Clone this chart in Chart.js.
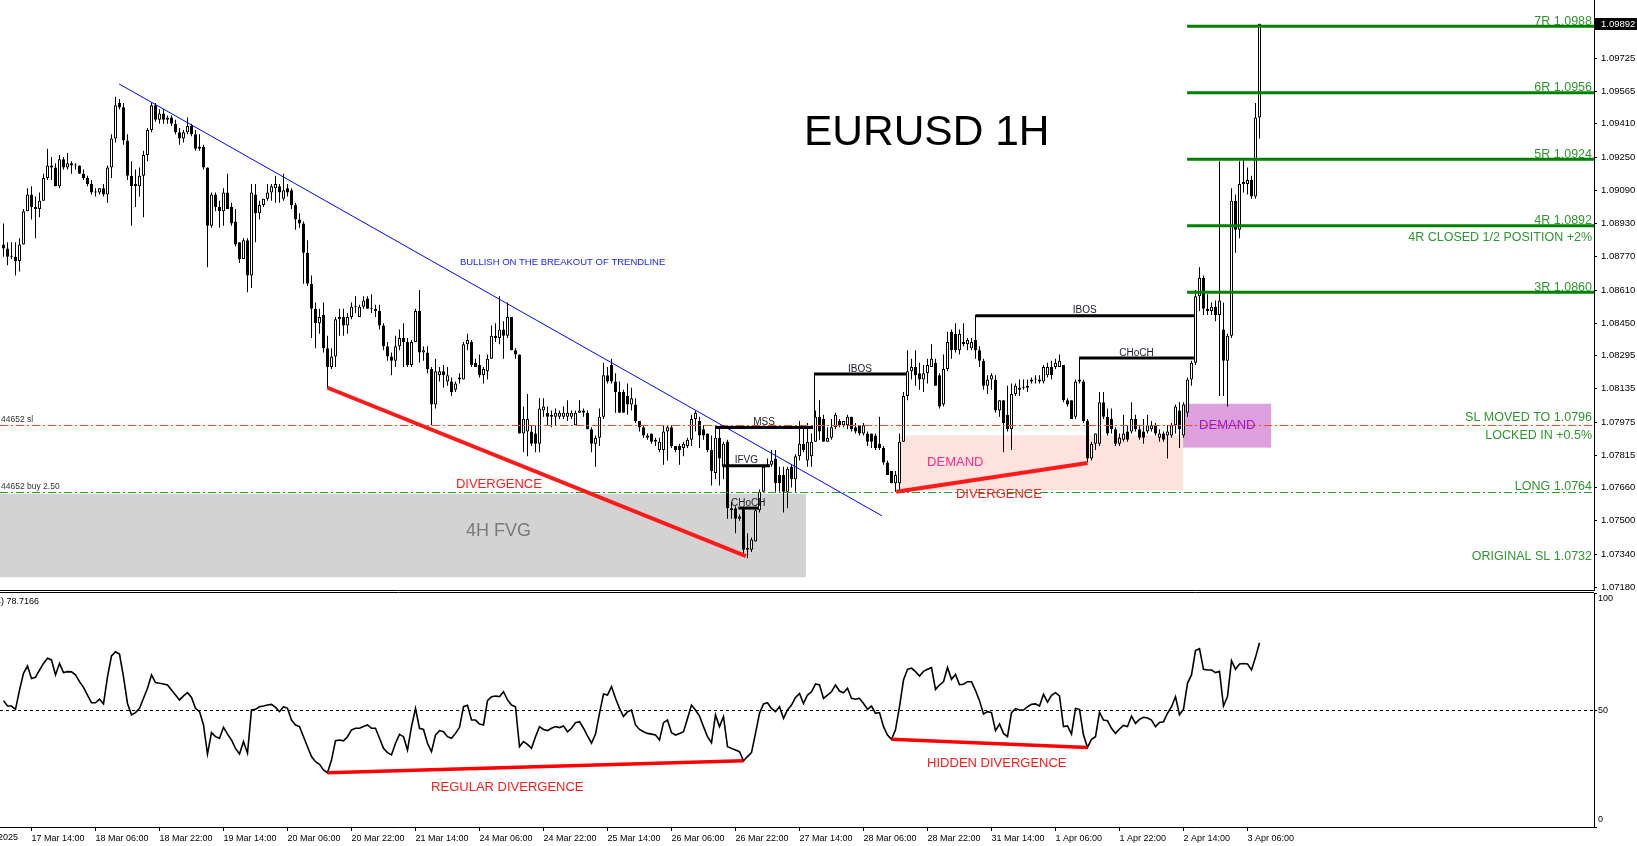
<!DOCTYPE html>
<html>
<head>
<meta charset="utf-8">
<title>EURUSD 1H</title>
<script src="https://cdn.jsdelivr.net/npm/chart.js"></script>
<style>
    html, body { margin: 0; padding: 0; background: #fff; overflow: hidden; }
    #price-chart { position: absolute; left: 0; top: 0; }
    #rsi-chart { position: absolute; left: 0; top: 591px; }
</style>
</head>
<body>
<canvas id="price-chart" width="1637" height="591"></canvas>
<canvas id="rsi-chart" width="1637" height="255"></canvas>
<script>
// EURUSD H1 candles, one entry per bar (bar 0 = 17 Mar 07:00)
var opens = [
    1.0883, 1.0881, 1.0877, 1.0877, 1.0875, 1.0883, 1.0899, 1.0907, 1.0901, 1.0900,
    1.0904, 1.0915, 1.0921, 1.0920, 1.0911, 1.0924, 1.0920, 1.0922, 1.0921, 1.0921,
    1.0917, 1.0915, 1.0912, 1.0908, 1.0908, 1.0910, 1.0907, 1.0920, 1.0934, 1.0951,
    1.0949, 1.0933, 1.0916, 1.0912, 1.0911, 1.0916, 1.0926, 1.0938, 1.0950, 1.0943,
    1.0946, 1.0943, 1.0944, 1.0941, 1.0937, 1.0934, 1.0937, 1.0940, 1.0936, 1.0929,
    1.0930, 1.0920, 1.0892, 1.0907, 1.0901, 1.0899, 1.0908, 1.0901, 1.0894, 1.0884,
    1.0876, 1.0885, 1.0868, 1.0907, 1.0898, 1.0902, 1.0905, 1.0908, 1.0910, 1.0911,
    1.0905, 1.0910, 1.0909, 1.0902, 1.0895, 1.0893, 1.0879, 1.0864, 1.0852, 1.0845,
    1.0849, 1.0833, 1.0824, 1.0829, 1.0847, 1.0848, 1.0844, 1.0848, 1.0853, 1.0848,
    1.0853, 1.0857, 1.0852, 1.0852, 1.0851, 1.0844, 1.0834, 1.0829, 1.0827, 1.0834,
    1.0838, 1.0836, 1.0825, 1.0836, 1.0851, 1.0831, 1.0831, 1.0823, 1.0806, 1.0820,
    1.0822, 1.0817, 1.0817, 1.0813, 1.0818, 1.0818, 1.0835, 1.0836, 1.0826, 1.0825,
    1.0820, 1.0822, 1.0828, 1.0839, 1.0838, 1.0842, 1.0839, 1.0848, 1.0832, 1.0830,
    1.0792, 1.0793, 1.0793, 1.0792, 1.0787, 1.0803, 1.0802, 1.0800, 1.0800, 1.0800,
    1.0800, 1.0800, 1.0800, 1.0796, 1.0802, 1.0803, 1.0802, 1.0794, 1.0787, 1.0790,
    1.0800, 1.0820, 1.0825, 1.0817, 1.0812, 1.0812, 1.0810, 1.0806, 1.0806, 1.0798,
    1.0795, 1.0790, 1.0792, 1.0788, 1.0784, 1.0784, 1.0793, 1.0795, 1.0786, 1.0786,
    1.0785, 1.0786, 1.0789, 1.0799, 1.0798, 1.0794, 1.0792, 1.0784, 1.0773, 1.0790,
    1.0776, 1.0788, 1.0756, 1.0756, 1.0751, 1.0756, 1.0737, 1.0736, 1.0740, 1.0755,
    1.0764, 1.0776, 1.0777, 1.0780, 1.0772, 1.0772, 1.0764, 1.0776, 1.0770, 1.0781,
    1.0787, 1.0779, 1.0781, 1.0788, 1.0800, 1.0799, 1.0788, 1.0790, 1.0795, 1.0798,
    1.0796, 1.0796, 1.0800, 1.0795, 1.0796, 1.0792, 1.0792, 1.0792, 1.0791, 1.0787,
    1.0785, 1.0778, 1.0774, 1.0768, 1.0768, 1.0788, 1.0810, 1.0822, 1.0824, 1.0821,
    1.0818, 1.0821, 1.0824, 1.0826, 1.0820, 1.0806, 1.0823, 1.0841, 1.0840, 1.0832,
    1.0836, 1.0835, 1.0833, 1.0837, 1.0832, 1.0827, 1.0815, 1.0818, 1.0818, 1.0803,
    1.0808, 1.0801, 1.0794, 1.0811, 1.0813, 1.0814, 1.0814, 1.0817, 1.0818, 1.0818,
    1.0817, 1.0820, 1.0824, 1.0824, 1.0824, 1.0825, 1.0808, 1.0808, 1.0800, 1.0817,
    1.0817, 1.0798, 1.0780, 1.0787, 1.0787, 1.0807, 1.0800, 1.0799, 1.0794, 1.0787,
    1.0789, 1.0793, 1.0793, 1.0799, 1.0794, 1.0793, 1.0793, 1.0794, 1.0796, 1.0790,
    1.0792, 1.0791, 1.0791, 1.0796, 1.0803, 1.0791, 1.0802, 1.0818, 1.0826, 1.0858,
    1.0867, 1.0852, 1.0851, 1.0853, 1.0849, 1.0842, 1.0827, 1.0839, 1.0904, 1.0890,
    1.0912, 1.0912, 1.0914, 1.0906, 1.0944
];
var highs = [
    1.0893, 1.0884, 1.0884, 1.0884, 1.0886, 1.0900, 1.0910, 1.0911, 1.0906, 1.0908,
    1.0917, 1.0929, 1.0925, 1.0922, 1.0926, 1.0925, 1.0927, 1.0923, 1.0922, 1.0921,
    1.0919, 1.0916, 1.0914, 1.0910, 1.0910, 1.0912, 1.0921, 1.0936, 1.0954, 1.0953,
    1.0951, 1.0936, 1.0923, 1.0919, 1.0920, 1.0928, 1.0939, 1.0951, 1.0951, 1.0948,
    1.0948, 1.0945, 1.0945, 1.0943, 1.0939, 1.0938, 1.0944, 1.0941, 1.0938, 1.0936,
    1.0931, 1.0920, 1.0908, 1.0908, 1.0904, 1.0910, 1.0917, 1.0903, 1.0900, 1.0884,
    1.0886, 1.0886, 1.0912, 1.0912, 1.0904, 1.0905, 1.0912, 1.0912, 1.0916, 1.0912,
    1.0917, 1.0912, 1.0910, 1.0903, 1.0898, 1.0894, 1.0885, 1.0868, 1.0855, 1.0852,
    1.0855, 1.0839, 1.0833, 1.0848, 1.0852, 1.0852, 1.0850, 1.0855, 1.0858, 1.0854,
    1.0858, 1.0858, 1.0859, 1.0854, 1.0854, 1.0845, 1.0836, 1.0831, 1.0839, 1.0842,
    1.0845, 1.0838, 1.0837, 1.0852, 1.0861, 1.0834, 1.0834, 1.0824, 1.0828, 1.0824,
    1.0825, 1.0824, 1.0819, 1.0817, 1.0821, 1.0836, 1.0840, 1.0837, 1.0828, 1.0830,
    1.0824, 1.0830, 1.0844, 1.0845, 1.0858, 1.0846, 1.0855, 1.0848, 1.0833, 1.0830,
    1.0805, 1.0811, 1.0796, 1.0796, 1.0809, 1.0809, 1.0805, 1.0803, 1.0804, 1.0803,
    1.0805, 1.0808, 1.0803, 1.0803, 1.0808, 1.0804, 1.0803, 1.0795, 1.0791, 1.0804,
    1.0826, 1.0824, 1.0828, 1.0821, 1.0817, 1.0813, 1.0816, 1.0814, 1.0809, 1.0798,
    1.0796, 1.0792, 1.0792, 1.0790, 1.0790, 1.0796, 1.0796, 1.0796, 1.0786, 1.0787,
    1.0788, 1.0790, 1.0801, 1.0803, 1.0800, 1.0796, 1.0792, 1.0791, 1.0796, 1.0795,
    1.0788, 1.0789, 1.0759, 1.0757, 1.0753, 1.0757, 1.0744, 1.0742, 1.0756, 1.0765,
    1.0777, 1.0780, 1.0784, 1.0784, 1.0776, 1.0776, 1.0776, 1.0777, 1.0782, 1.0798,
    1.0796, 1.0797, 1.0792, 1.0803, 1.0808, 1.0801, 1.0795, 1.0799, 1.0802, 1.0799,
    1.0798, 1.0801, 1.0800, 1.0797, 1.0796, 1.0797, 1.0793, 1.0792, 1.0792, 1.0800,
    1.0786, 1.0779, 1.0774, 1.0774, 1.0792, 1.0812, 1.0832, 1.0828, 1.0832, 1.0826,
    1.0825, 1.0828, 1.0835, 1.0828, 1.0821, 1.0830, 1.0841, 1.0842, 1.0845, 1.0842,
    1.0845, 1.0838, 1.0838, 1.0849, 1.0834, 1.0828, 1.0820, 1.0821, 1.0820, 1.0808,
    1.0808, 1.0815, 1.0816, 1.0816, 1.0818, 1.0818, 1.0818, 1.0819, 1.0820, 1.0820,
    1.0825, 1.0826, 1.0827, 1.0828, 1.0830, 1.0825, 1.0809, 1.0808, 1.0818, 1.0828,
    1.0818, 1.0799, 1.0788, 1.0792, 1.0812, 1.0812, 1.0804, 1.0804, 1.0795, 1.0792,
    1.0801, 1.0796, 1.0807, 1.0801, 1.0796, 1.0799, 1.0801, 1.0798, 1.0797, 1.0794,
    1.0793, 1.0796, 1.0797, 1.0806, 1.0807, 1.0807, 1.0819, 1.0827, 1.0861, 1.0872,
    1.0868, 1.0859, 1.0855, 1.0856, 1.0923, 1.0855, 1.0840, 1.0910, 1.0907, 1.0923,
    1.0924, 1.0920, 1.0916, 1.0951, 1.09892
];
var lows = [
    1.0877, 1.0873, 1.0876, 1.0868, 1.0870, 1.0883, 1.0899, 1.0895, 1.0886, 1.0896,
    1.0904, 1.0914, 1.0914, 1.0911, 1.0910, 1.0919, 1.0919, 1.0917, 1.0919, 1.0917,
    1.0914, 1.0911, 1.0907, 1.0906, 1.0907, 1.0906, 1.0903, 1.0915, 1.0932, 1.0948,
    1.0931, 1.0914, 1.0892, 1.0901, 1.0906, 1.0896, 1.0923, 1.0937, 1.0942, 1.0941,
    1.0941, 1.0941, 1.0940, 1.0936, 1.0931, 1.0932, 1.0936, 1.0935, 1.0928, 1.0928,
    1.0919, 1.0872, 1.0891, 1.0899, 1.0891, 1.0892, 1.0900, 1.0892, 1.0882, 1.0874,
    1.0876, 1.0860, 1.0862, 1.0884, 1.0895, 1.0901, 1.0904, 1.0904, 1.0903, 1.0903,
    1.0904, 1.0906, 1.0900, 1.0890, 1.0891, 1.0864, 1.0863, 1.0838, 1.0833, 1.0840,
    1.0831, 1.0814, 1.0823, 1.0824, 1.0839, 1.0839, 1.0840, 1.0847, 1.0850, 1.0848,
    1.0852, 1.0852, 1.0850, 1.0848, 1.0842, 1.0832, 1.0827, 1.0820, 1.0824, 1.0832,
    1.0824, 1.0824, 1.0824, 1.0836, 1.0826, 1.0827, 1.0821, 1.0796, 1.0804, 1.0817,
    1.0814, 1.0815, 1.0810, 1.0812, 1.0816, 1.0818, 1.0832, 1.0824, 1.0824, 1.0819,
    1.0816, 1.0818, 1.0828, 1.0836, 1.0835, 1.0828, 1.0838, 1.0832, 1.0828, 1.0792,
    1.0783, 1.0781, 1.0786, 1.0783, 1.0783, 1.0800, 1.0796, 1.0795, 1.0796, 1.0799,
    1.0799, 1.0798, 1.0799, 1.0796, 1.0802, 1.0800, 1.0794, 1.0783, 1.0776, 1.0786,
    1.0799, 1.0816, 1.0816, 1.0802, 1.0802, 1.0802, 1.0801, 1.0803, 1.0797, 1.0793,
    1.0790, 1.0789, 1.0787, 1.0786, 1.0783, 1.0777, 1.0779, 1.0785, 1.0783, 1.0777,
    1.0781, 1.0785, 1.0786, 1.0793, 1.0785, 1.0789, 1.0783, 1.0767, 1.0770, 1.0767,
    1.0770, 1.0751, 1.0751, 1.0744, 1.0750, 1.0733, 1.0732, 1.0735, 1.0740, 1.0754,
    1.0764, 1.0776, 1.0776, 1.0764, 1.0764, 1.0754, 1.0756, 1.0766, 1.0764, 1.0779,
    1.0783, 1.0776, 1.0776, 1.0788, 1.0789, 1.0788, 1.0788, 1.0789, 1.0794, 1.0795,
    1.0795, 1.0794, 1.0793, 1.0792, 1.0791, 1.0791, 1.0786, 1.0785, 1.0784, 1.0784,
    1.0777, 1.0772, 1.0768, 1.0764, 1.0764, 1.0788, 1.0808, 1.0818, 1.0815, 1.0813,
    1.0812, 1.0816, 1.0824, 1.0815, 1.0804, 1.0805, 1.0822, 1.0828, 1.0831, 1.0830,
    1.0834, 1.0832, 1.0832, 1.0828, 1.0824, 1.0813, 1.0811, 1.0813, 1.0802, 1.0800,
    1.0783, 1.0793, 1.0784, 1.0810, 1.0810, 1.0813, 1.0812, 1.0816, 1.0816, 1.0816,
    1.0816, 1.0819, 1.0818, 1.0823, 1.0824, 1.0807, 1.0805, 1.0799, 1.0799, 1.0816,
    1.0797, 1.0778, 1.0779, 1.0784, 1.0786, 1.0799, 1.0791, 1.0792, 1.0786, 1.0786,
    1.0788, 1.0788, 1.0792, 1.0793, 1.0789, 1.0787, 1.0792, 1.0793, 1.0791, 1.0788,
    1.0788, 1.0780, 1.0790, 1.0792, 1.0785, 1.0790, 1.0800, 1.0815, 1.0825, 1.0851,
    1.0849, 1.0849, 1.0849, 1.0846, 1.0810, 1.0810, 1.0805, 1.0838, 1.0879, 1.0886,
    1.0908, 1.0907, 1.0905, 1.0905, 1.0934
];
var closes = [
    1.0881, 1.0877, 1.0877, 1.0875, 1.0883, 1.0899, 1.0907, 1.0901, 1.0900, 1.0904,
    1.0915, 1.0921, 1.0920, 1.0911, 1.0924, 1.0920, 1.0922, 1.0921, 1.0921, 1.0917,
    1.0915, 1.0912, 1.0908, 1.0908, 1.0910, 1.0907, 1.0920, 1.0934, 1.0950, 1.0949,
    1.0933, 1.0916, 1.0911, 1.0911, 1.0916, 1.0926, 1.0938, 1.0950, 1.0943, 1.0946,
    1.0943, 1.0944, 1.0941, 1.0937, 1.0934, 1.0937, 1.0940, 1.0936, 1.0929, 1.0930,
    1.0920, 1.0892, 1.0907, 1.0901, 1.0899, 1.0908, 1.0900, 1.0893, 1.0883, 1.0876,
    1.0885, 1.0868, 1.0908, 1.0898, 1.0902, 1.0905, 1.0908, 1.0911, 1.0912, 1.0908,
    1.0909, 1.0908, 1.0902, 1.0895, 1.0893, 1.0879, 1.0864, 1.0852, 1.0845, 1.0848,
    1.0833, 1.0824, 1.0829, 1.0847, 1.0848, 1.0844, 1.0848, 1.0853, 1.0853, 1.0853,
    1.0856, 1.0852, 1.0852, 1.0851, 1.0844, 1.0834, 1.0829, 1.0827, 1.0834, 1.0838,
    1.0836, 1.0825, 1.0836, 1.0851, 1.0831, 1.0832, 1.0823, 1.0806, 1.0822, 1.0822,
    1.0820, 1.0820, 1.0812, 1.0816, 1.0819, 1.0835, 1.0837, 1.0825, 1.0824, 1.0820,
    1.0823, 1.0828, 1.0839, 1.0838, 1.0842, 1.0839, 1.0848, 1.0832, 1.0830, 1.0792,
    1.0799, 1.0799, 1.0787, 1.0787, 1.0804, 1.0805, 1.0800, 1.0801, 1.0802, 1.0802,
    1.0802, 1.0802, 1.0802, 1.0802, 1.0803, 1.0802, 1.0794, 1.0787, 1.0790, 1.0800,
    1.0820, 1.0817, 1.0817, 1.0812, 1.0802, 1.0802, 1.0806, 1.0809, 1.0798, 1.0795,
    1.0791, 1.0791, 1.0788, 1.0789, 1.0788, 1.0793, 1.0795, 1.0786, 1.0784, 1.0784,
    1.0787, 1.0789, 1.0799, 1.0802, 1.0791, 1.0791, 1.0784, 1.0774, 1.0790, 1.0780,
    1.0787, 1.0756, 1.0755, 1.0751, 1.0752, 1.0736, 1.0736, 1.0741, 1.0755, 1.0764,
    1.0776, 1.0777, 1.0779, 1.0768, 1.0768, 1.0764, 1.0775, 1.0770, 1.0781, 1.0787,
    1.0784, 1.0788, 1.0788, 1.0800, 1.0793, 1.0788, 1.0790, 1.0795, 1.0801, 1.0796,
    1.0798, 1.0800, 1.0794, 1.0793, 1.0792, 1.0796, 1.0788, 1.0788, 1.0785, 1.0785,
    1.0778, 1.0772, 1.0768, 1.0772, 1.0788, 1.0810, 1.0822, 1.0824, 1.0820, 1.0818,
    1.0821, 1.0825, 1.0828, 1.0815, 1.0805, 1.0823, 1.0836, 1.0832, 1.0832, 1.0840,
    1.0835, 1.0837, 1.0836, 1.0832, 1.0827, 1.0815, 1.0818, 1.0820, 1.0803, 1.0808,
    1.0797, 1.0794, 1.0811, 1.0815, 1.0814, 1.0814, 1.0815, 1.0818, 1.0818, 1.0817,
    1.0824, 1.0824, 1.0820, 1.0826, 1.0827, 1.0808, 1.0806, 1.0799, 1.0817, 1.0818,
    1.0798, 1.0780, 1.0787, 1.0792, 1.0807, 1.0800, 1.0792, 1.0794, 1.0787, 1.0790,
    1.0792, 1.0789, 1.0799, 1.0794, 1.0790, 1.0790, 1.0796, 1.0796, 1.0792, 1.0792,
    1.0789, 1.0793, 1.0796, 1.0805, 1.0794, 1.0806, 1.0818, 1.0826, 1.0858, 1.0867,
    1.0852, 1.0851, 1.0853, 1.0849, 1.0856, 1.0827, 1.0839, 1.0904, 1.0890, 1.0912,
    1.0913, 1.0914, 1.0906, 1.0944, 1.09892
];
// RSI(14), one value per bar
var rsi = [
    54.0, 51.7, 51.7, 50.3, 58.5, 65.7, 68.8, 63.5, 64.0, 67.0,
    69.9, 72.1, 71.4, 65.0, 69.9, 66.0, 66.4, 66.3, 65.0, 62.1,
    59.7, 56.4, 53.1, 53.1, 54.6, 52.6, 64.2, 73.1, 74.9, 73.9,
    64.2, 52.8, 47.9, 48.9, 50.7, 55.0, 59.3, 65.0, 61.7, 61.4,
    61.1, 60.7, 58.5, 56.4, 54.3, 56.0, 57.4, 55.4, 50.7, 49.3,
    43.6, 31.2, 40.3, 38.6, 37.9, 42.6, 39.7, 37.2, 33.6, 31.2,
    36.5, 31.5, 50.0, 50.3, 51.4, 51.7, 52.1, 52.4, 51.1, 49.3,
    51.4, 50.7, 45.7, 43.6, 42.9, 38.6, 34.3, 30.1, 27.9, 26.8,
    24.4, 23.2, 28.6, 36.9, 37.2, 36.8, 38.6, 41.5, 42.2, 42.2,
    42.9, 43.6, 42.2, 42.2, 37.9, 33.6, 31.8, 30.8, 35.8, 39.6,
    38.6, 32.9, 42.9, 50.7, 42.2, 41.7, 35.8, 32.2, 39.3, 41.2,
    40.7, 38.6, 37.9, 40.0, 42.6, 51.4, 52.0, 45.7, 45.7, 44.0,
    43.6, 54.0, 55.7, 56.0, 55.7, 57.8, 54.3, 52.1, 51.4, 34.3,
    36.5, 35.3, 33.6, 38.6, 42.9, 41.7, 41.2, 42.2, 42.9, 42.5,
    43.2, 40.7, 42.2, 44.6, 45.0, 42.2, 38.9, 35.8, 39.7, 48.6,
    56.8, 56.4, 60.0, 55.0, 50.7, 47.2, 49.3, 50.0, 43.6, 41.7,
    40.7, 40.0, 39.7, 39.3, 37.2, 44.6, 45.7, 40.3, 39.3, 40.0,
    40.7, 46.4, 52.1, 50.0, 47.4, 42.9, 38.6, 36.0, 47.9, 42.9,
    47.2, 34.3, 33.6, 32.9, 32.2, 28.3, 30.1, 31.8, 40.0, 48.6,
    52.6, 53.1, 50.7, 49.3, 51.4, 46.4, 50.0, 52.1, 55.4, 57.1,
    52.8, 56.4, 57.8, 61.1, 60.7, 55.0, 56.4, 57.8, 60.7, 58.1,
    57.4, 59.3, 55.0, 54.6, 55.0, 52.8, 50.3, 51.7, 48.6, 48.9,
    42.9, 39.3, 37.5, 41.5, 51.4, 62.8, 67.4, 67.9, 66.4, 64.5,
    66.5, 67.4, 68.1, 58.8, 60.7, 62.1, 68.2, 63.1, 65.2, 60.8,
    61.0, 62.1, 62.1, 58.3, 54.0, 48.3, 49.3, 48.9, 41.2, 44.0,
    40.0, 38.6, 48.9, 50.6, 50.0, 50.0, 51.4, 52.4, 52.6, 51.7,
    56.7, 53.4, 56.3, 57.4, 56.0, 42.9, 43.2, 39.7, 50.7, 50.3,
    39.3, 34.0, 37.5, 38.6, 49.0, 45.7, 45.4, 42.2, 40.0, 41.9,
    43.4, 42.9, 47.4, 44.3, 46.0, 46.9, 46.6, 45.7, 42.9, 44.7,
    45.0, 48.6, 51.4, 55.7, 47.9, 50.3, 61.4, 65.0, 75.4, 76.2,
    67.4, 67.1, 67.1, 66.0, 66.5, 51.7, 55.7, 71.1, 67.4, 69.7,
    69.9, 69.7, 67.1, 72.5, 78.7166
];
var timeLabels = [
    '17 Mar 14:00', '18 Mar 06:00', '18 Mar 22:00', '19 Mar 14:00', '20 Mar 06:00',
    '20 Mar 22:00', '21 Mar 14:00', '24 Mar 06:00', '24 Mar 22:00', '25 Mar 14:00',
    '26 Mar 06:00', '26 Mar 22:00', '27 Mar 14:00', '28 Mar 06:00', '28 Mar 22:00',
    '31 Mar 14:00', '1 Apr 06:00', '1 Apr 22:00', '2 Apr 14:00', '3 Apr 06:00'
];
var timeLabelBars = [7, 23, 39, 55, 71, 87, 103, 119, 135, 151, 167, 183, 199, 215, 231, 247, 263, 279, 295, 311];
var firstDateLabel = '17 Mar 2025';
var priceTicks = [
    1.09725, 1.09565, 1.09410, 1.09250, 1.09090, 1.08930, 1.08770, 1.08610, 1.08450,
    1.08295, 1.08135, 1.07975, 1.07815, 1.07660, 1.07500, 1.07340, 1.07180
];
var rsiTicks = [0, 50, 100];

// trade plan
var targets = [1.0988, 1.0956, 1.0924, 1.0892, 1.0860];
var targetNames = ['7R 1.0988', '6R 1.0956', '5R 1.0924', '4R 1.0892', '3R 1.0860'];
var stopPrice = 1.0796;
var entryPrice = 1.0764;
var originalStop = 1.0732;

// ---- drawing set-up ----
var xMin = -0.875, xMax = 397.625;
var FONT = '"Liberation Sans", Arial, sans-serif';
Chart.defaults.font.family = FONT;
Chart.defaults.color = '#000';

function font(size) { return size + 'px ' + FONT; }

function line(ctx, x1, y1, x2, y2) {
    ctx.beginPath();
    ctx.moveTo(x1, y1);
    ctx.lineTo(x2, y2);
    ctx.stroke();
}

function text(ctx, str, x, y, size, color, align, baseline) {
    ctx.font = font(size);
    ctx.fillStyle = color;
    ctx.textAlign = align || 'left';
    ctx.textBaseline = baseline || 'middle';
    ctx.fillText(str, x, y);
}

// annotations, anchored in bar / price units
var zones = [
    { from: -2, to: 200.6, top: 1.07630, bottom: 1.07228, color: '#d3d3d3' },
    { from: 223.9, to: 294.9, top: 1.07911, bottom: 1.07646, color: '#fde2de' },
    { from: 294.9, to: 316.9, top: 1.08063, bottom: 1.07852, color: '#dda0dd' }
];
var trendLine = [[28.9, 1.09602], [219.6, 1.07524]];
var priceDivergences = [
    [[81, 1.0814], [185.6, 1.0733]],
    [[223.2, 1.0764], [271, 1.07778]]
];
var structures = [
    { name: 'MSS', from: 177.9, to: 202.4, price: 1.07949 },
    { name: 'IBOS', from: 202.6, to: 225.6, price: 1.08206 },
    { name: 'IFVG', from: 179.8, to: 191.6, price: 1.07765 },
    { name: 'CHoCH', from: 183.7, to: 188.7, price: 1.07561 },
    { name: 'IBOS', from: 243, to: 297.6, price: 1.08486 },
    { name: 'CHoCH', from: 268.9, to: 297.6, price: 1.08283 }
];
var notes = [
    { str: 'EURUSD 1H', bar: 200.1, price: 1.09366, size: 42.5, color: '#000000' },
    { str: 'BULLISH ON THE BREAKOUT OF TRENDLINE', bar: 114.1, price: 1.08741, size: 9.5, color: '#2020ff' },
    { str: '4H FVG', bar: 115.6, price: 1.07452, size: 18, color: '#7a7a7a' },
    { str: 'DIVERGENCE', bar: 113.1, price: 1.07673, size: 13, color: '#ff1a1a' },
    { str: 'DIVERGENCE', bar: 238.1, price: 1.07625, size: 13, color: '#ff1a1a' },
    { str: 'DEMAND', bar: 230.9, price: 1.0778, size: 13, color: '#ff2a8c' },
    { str: 'DEMAND', bar: 298.9, price: 1.07959, size: 13, color: '#9a1ad0' }
];
var planNotes = [
    { str: '4R CLOSED 1/2 POSITION +2%', price: 1.0892, dy: 15.5 },
    { str: 'SL MOVED TO 1.0796', price: stopPrice, dy: -4 },
    { str: 'LOCKED IN +0.5%', price: stopPrice, dy: 13.5 },
    { str: 'LONG 1.0764', price: entryPrice, dy: -2 },
    { str: 'ORIGINAL SL 1.0732', price: originalStop, dy: 2 }
];
var tradeLines = [
    { price: stopPrice, color: '#ff4a1c', tag: '44652 sl' },
    { price: entryPrice, color: '#22a022', tag: '44652 buy 2.50' }
];
var rsiDivergences = [
    [[81, 23.2], [185, 28.3]],
    [[222, 37.5], [271, 34.0]]
];
var rsiNotes = [
    { str: 'REGULAR DIVERGENCE', bar: 106.9, value: 17.0 },
    { str: 'HIDDEN DIVERGENCE', bar: 230.9, value: 27.2 }
];

var priceMarks = {
    id: 'priceMarks',
    beforeDatasetsDraw: function (chart) {
        var ctx = chart.ctx, a = chart.chartArea, sx = chart.scales.x, sy = chart.scales.y;
        ctx.save();
        ctx.beginPath();
        ctx.rect(a.left, a.top, a.right - a.left, a.bottom - a.top);
        ctx.clip();
        zones.forEach(function (z) {
            var l = sx.getPixelForValue(z.from), r = sx.getPixelForValue(z.to);
            var t = sy.getPixelForValue(z.top), b = sy.getPixelForValue(z.bottom);
            ctx.fillStyle = z.color;
            ctx.fillRect(l, t, r - l, b - t);
        });
        ctx.restore();
    },
    afterDatasetsDraw: function (chart) {
        var ctx = chart.ctx, a = chart.chartArea, sx = chart.scales.x, sy = chart.scales.y;
        ctx.save();
        ctx.beginPath();
        ctx.rect(a.left, a.top, a.right - a.left, a.bottom - a.top);
        ctx.clip();

        // order lines
        ctx.lineWidth = 1;
        ctx.setLineDash([8, 3, 2, 3]);
        tradeLines.forEach(function (t) {
            var y = Math.round(sy.getPixelForValue(t.price)) + 0.5;
            ctx.strokeStyle = t.color;
            line(ctx, a.left, y, a.right, y);
            text(ctx, t.tag, a.left + 1, y - 4, 8.5, '#333333', 'left', 'alphabetic');
        });
        ctx.setLineDash([]);

        // R targets
        ctx.strokeStyle = '#008000';
        ctx.lineWidth = 3;
        targets.forEach(function (p, i) {
            var y = sy.getPixelForValue(p);
            line(ctx, sx.getPixelForValue(295.9), y, a.right, y);
            text(ctx, targetNames[i], a.right - 2, y - 1.5, 12.5, '#2e962e', 'right', 'alphabetic');
        });
        planNotes.forEach(function (n) {
            text(ctx, n.str, a.right - 2, sy.getPixelForValue(n.price) + n.dy, 12.5, '#2e962e', 'right', 'alphabetic');
        });

        // trend line
        ctx.strokeStyle = '#0000ff';
        ctx.lineWidth = 1;
        line(ctx, sx.getPixelForValue(trendLine[0][0]), sy.getPixelForValue(trendLine[0][1]),
            sx.getPixelForValue(trendLine[1][0]), sy.getPixelForValue(trendLine[1][1]));

        // divergences
        ctx.strokeStyle = '#ff1a1a';
        ctx.lineWidth = 4;
        priceDivergences.forEach(function (d) {
            line(ctx, sx.getPixelForValue(d[0][0]), sy.getPixelForValue(d[0][1]),
                sx.getPixelForValue(d[1][0]), sy.getPixelForValue(d[1][1]));
        });

        // market structure
        ctx.strokeStyle = '#000000';
        structures.forEach(function (s) {
            var x1 = sx.getPixelForValue(s.from), x2 = sx.getPixelForValue(s.to), y = sy.getPixelForValue(s.price);
            ctx.lineWidth = 3;
            line(ctx, x1, y, x2, y);
            text(ctx, s.name, (x1 + x2) / 2, y - 2.5, 10, '#1a1a2a', 'center', 'alphabetic');
        });
        ctx.lineWidth = 1;
        var cx = Math.round(sx.getPixelForValue(structures[1].from)) + 0.5;
        line(ctx, cx, sy.getPixelForValue(structures[0].price), cx, sy.getPixelForValue(structures[1].price));

        notes.forEach(function (n) {
            text(ctx, n.str, sx.getPixelForValue(n.bar), sy.getPixelForValue(n.price), n.size, n.color);
        });
        ctx.restore();
    },
    afterDraw: function (chart) {
        var ctx = chart.ctx, a = chart.chartArea, sy = chart.scales.y;
        ctx.save();
        ctx.strokeStyle = '#000';
        ctx.lineWidth = 1;
        line(ctx, a.left, a.bottom - 0.5, a.right, a.bottom - 0.5);
        var last = closes[closes.length - 1];
        var y = Math.round(sy.getPixelForValue(last));
        ctx.fillStyle = '#000';
        ctx.fillRect(a.right + 1, y - 6, chart.width - a.right - 1, 12);
        text(ctx, last.toFixed(5), a.right + 7, y, 9.5, '#ffffff');
        ctx.restore();
    }
};

var rsiMarks = {
    id: 'rsiMarks',
    beforeDatasetsDraw: function (chart) {
        var ctx = chart.ctx, a = chart.chartArea, sy = chart.scales.y;
        ctx.save();
        ctx.strokeStyle = '#000';
        ctx.lineWidth = 1;
        ctx.setLineDash([3, 3]);
        var y = Math.round(sy.getPixelForValue(50)) + 0.5;
        line(ctx, a.left, y, a.right, y);
        ctx.restore();
    },
    afterDatasetsDraw: function (chart) {
        var ctx = chart.ctx, sx = chart.scales.x, sy = chart.scales.y;
        ctx.save();
        ctx.strokeStyle = '#ff0000';
        ctx.lineWidth = 3.5;
        rsiDivergences.forEach(function (d) {
            line(ctx, sx.getPixelForValue(d[0][0]), sy.getPixelForValue(d[0][1]),
                sx.getPixelForValue(d[1][0]), sy.getPixelForValue(d[1][1]));
        });
        rsiNotes.forEach(function (n) {
            text(ctx, n.str, sx.getPixelForValue(n.bar), sy.getPixelForValue(n.value), 13, '#ff1a1a');
        });
        ctx.restore();
    },
    afterDraw: function (chart) {
        var ctx = chart.ctx, a = chart.chartArea, sy = chart.scales.y;
        ctx.save();
        ctx.strokeStyle = '#000';
        ctx.lineWidth = 1;
        line(ctx, a.left, a.top - 0.5, a.right, a.top - 0.5);
        text(ctx, '100', a.right + 4, sy.getPixelForValue(100) + 6, 9, '#000');
        text(ctx, '50', a.right + 4, sy.getPixelForValue(50) + 1, 9, '#000');
        text(ctx, '0', a.right + 4, sy.getPixelForValue(0) - 7, 9, '#000');
        text(ctx, 'RSI(14) ' + rsi[rsi.length - 1], a.left + 39, sy.getPixelForValue(96.2), 9, '#000', 'right');
        text(ctx, firstDateLabel, a.left + 18, a.bottom + 6, 9, '#000', 'right', 'top');
        ctx.restore();
    }
};

// ---- price chart ----
new Chart(document.getElementById('price-chart'), {
    type: 'bar',
    data: {
        datasets: [
            {
                label: 'body',
                data: closes.map(function (c, i) { return { x: i, y: [opens[i], c] }; }),
                backgroundColor: closes.map(function (c, i) { return c > opens[i] ? '#ffffff' : '#000000'; }),
                borderColor: '#000000',
                borderWidth: 1,
                borderSkipped: false,
                barThickness: 3,
                minBarLength: 1,
                inflateAmount: 0,
                grouped: false,
                order: 0
            },
            {
                label: 'wick',
                data: highs.map(function (h, i) { return { x: i, y: [lows[i], h] }; }),
                backgroundColor: '#000000',
                borderWidth: 0,
                barThickness: 1,
                inflateAmount: 0,
                grouped: false,
                order: 1
            }
        ]
    },
    options: {
        responsive: false,
        animation: false,
        events: [],
        layout: { padding: 0 },
        plugins: { legend: { display: false }, tooltip: { enabled: false } },
        scales: {
            x: { type: 'linear', min: xMin, max: xMax, offset: false, display: false },
            y: {
                position: 'right',
                min: 1.07162,
                max: 1.10006,
                beginAtZero: false,
                afterBuildTicks: function (scale) {
                    scale.ticks = priceTicks.map(function (v) { return { value: v }; });
                },
                afterFit: function (scale) {
                    scale.width = 43;
                    scale.paddingTop = 0;
                    scale.paddingBottom = 0;
                },
                ticks: {
                    autoSkip: false,
                    padding: 4,
                    color: '#000',
                    font: { size: 9.5 },
                    callback: function (v) { return v.toFixed(5); }
                },
                grid: { drawOnChartArea: false, tickLength: 3, color: '#000' },
                border: { display: true, color: '#000', width: 1 }
            }
        }
    },
    plugins: [priceMarks]
});

// ---- RSI chart ----
new Chart(document.getElementById('rsi-chart'), {
    type: 'line',
    data: {
        datasets: [{
            label: 'RSI(14)',
            data: rsi.map(function (v, i) { return { x: i, y: v }; }),
            borderColor: '#000000',
            borderWidth: 1.6,
            pointRadius: 0,
            tension: 0,
            fill: false
        }]
    },
    options: {
        responsive: false,
        animation: false,
        events: [],
        layout: { padding: { top: 2, left: 0, right: 0, bottom: 0 } },
        plugins: { legend: { display: false }, tooltip: { enabled: false } },
        scales: {
            x: {
                type: 'linear',
                min: xMin,
                max: xMax,
                offset: false,
                afterBuildTicks: function (scale) {
                    scale.ticks = timeLabelBars.map(function (v) { return { value: v }; });
                },
                afterFit: function (scale) {
                    scale.height = 19;
                    scale.paddingLeft = 0;
                    scale.paddingRight = 0;
                },
                ticks: {
                    autoSkip: false,
                    maxRotation: 0,
                    align: 'start',
                    padding: 2,
                    color: '#000',
                    font: { size: 9 },
                    callback: function (v, i) { return timeLabels[i]; }
                },
                grid: { drawOnChartArea: false, tickLength: 4, color: '#000' },
                border: { display: true, color: '#000', width: 1 }
            },
            y: {
                position: 'right',
                min: 0,
                max: 100,
                afterBuildTicks: function (scale) {
                    scale.ticks = rsiTicks.map(function (v) { return { value: v }; });
                },
                afterFit: function (scale) {
                    scale.width = 43;
                    scale.paddingTop = 0;
                    scale.paddingBottom = 0;
                },
                ticks: { display: false },
                grid: { drawOnChartArea: false, tickLength: 3, color: '#000' },
                border: { display: true, color: '#000', width: 1 }
            }
        }
    },
    plugins: [rsiMarks]
});
</script>
</body>
</html>
